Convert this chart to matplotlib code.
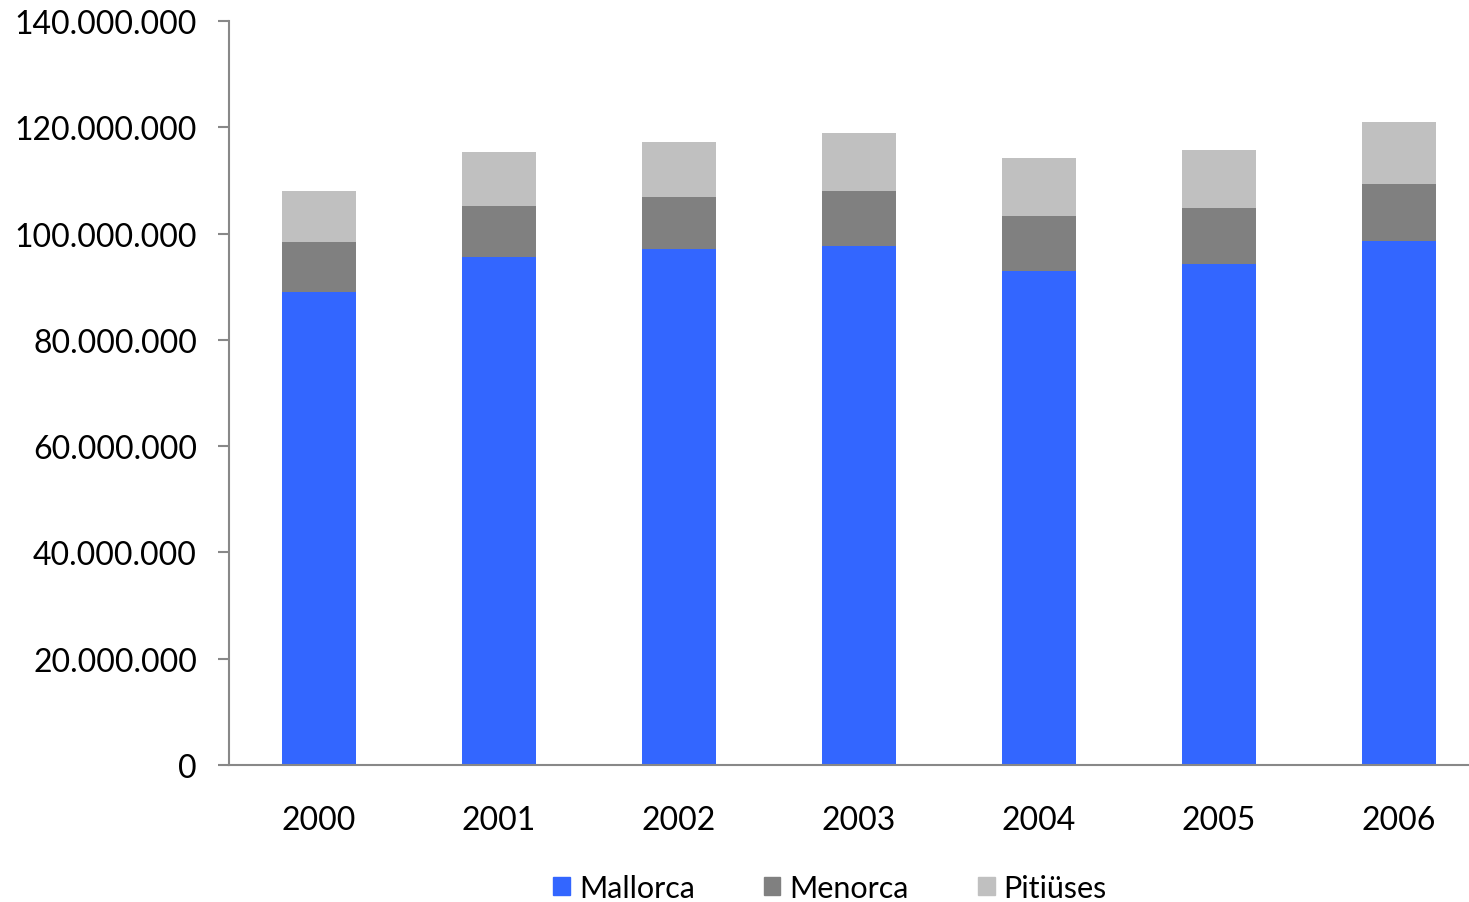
import matplotlib
matplotlib.use("Agg")
from matplotlib import pyplot as plt
from matplotlib.patches import Patch
import numpy as np

years = ["2000", "2001", "2002", "2003", "2004", "2005", "2006"]
mallorca = [89.0e6, 95.6e6, 97.1e6, 97.7e6, 93.0e6, 94.3e6, 98.6e6]
menorca = [9.4e6, 9.6e6, 9.8e6, 10.3e6, 10.3e6, 10.5e6, 10.7e6]
pitiuses = [9.6e6, 10.2e6, 10.3e6, 10.9e6, 10.9e6, 10.9e6, 11.7e6]

names = ["Mallorca", "Menorca", "Pitiüses"]
colors = ["#3366FF", "#808080", "#C0C0C0"]

plt.rcParams['font.family'] = ['Lato', 'DejaVu Sans']
fs = 23

fig = plt.figure(figsize=(14.69, 9.03), dpi=100)
ax = fig.add_axes([229/1469, 137/903, 1260/1469, 744/903])

x = np.arange(len(years))
w = 0.41
bottom = np.zeros(len(years))
for vals, c in zip([mallorca, menorca, pitiuses], colors):
    ax.bar(x, vals, w, bottom=bottom, color=c, zorder=2)
    bottom += np.array(vals)

ax.set_xlim(-0.5, 6.5)
ax.set_ylim(0, 140e6)
yt = np.arange(0, 140e6 + 1, 20e6)
ax.set_yticks(yt)
ax.set_yticklabels(["0" if v == 0 else f"{int(v):,}".replace(",", ".") for v in yt])
ax.set_xticks(x)
ax.set_xticklabels(years)

for s in ["top", "right"]:
    ax.spines[s].set_visible(False)
for s in ["left", "bottom"]:
    ax.spines[s].set_color("#888888")
    ax.spines[s].set_linewidth(1.5)
ax.tick_params(axis="y", length=8, width=1.5, color="#888888", pad=15, labelsize=fs)
ax.tick_params(axis="x", length=0, pad=29, labelsize=fs)

handles = [Patch(color=c) for c in colors]
fig.legend(handles, names, loc="center", bbox_to_anchor=(830/1469, 1 - 889/903),
           ncol=3, frameon=False, fontsize=22, handlelength=0.55, handleheight=0.55,
           handletextpad=0.3, columnspacing=2.25, borderpad=0.1)

fig.savefig("out.png", dpi=100)
